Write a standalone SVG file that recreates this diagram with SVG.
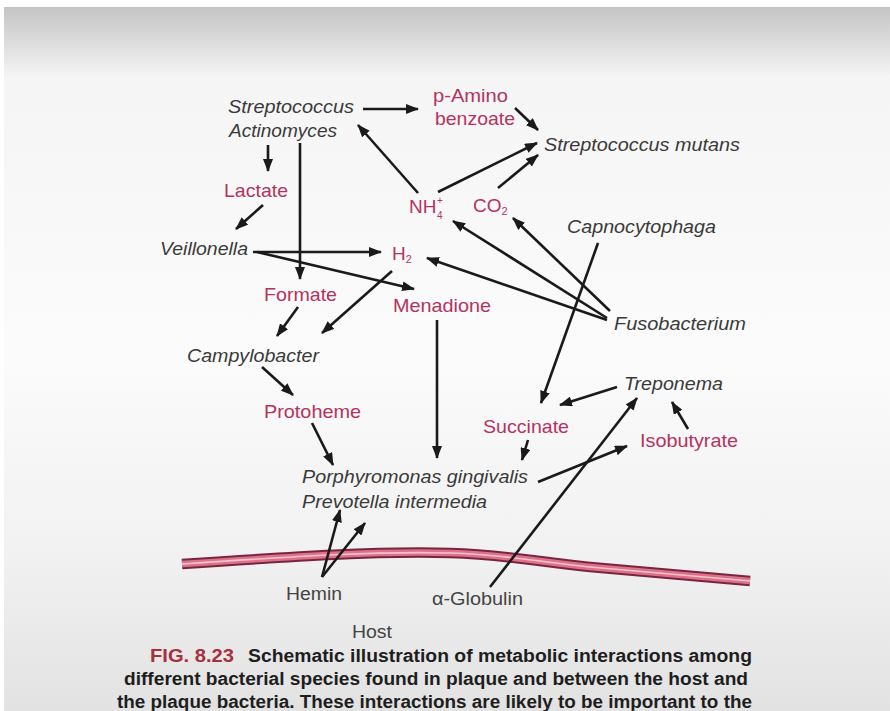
<svg xmlns="http://www.w3.org/2000/svg" width="890" height="711" viewBox="0 0 890 711">
<defs>
<linearGradient id="bg" x1="0" y1="7" x2="0" y2="711" gradientUnits="userSpaceOnUse">
<stop offset="0" stop-color="#c4c4c4"/>
<stop offset="0.1" stop-color="#f5f5f5"/>
<stop offset="0.5" stop-color="#fbfbfb"/>
<stop offset="0.78" stop-color="#f1f1f1"/>
<stop offset="1" stop-color="#e2e2e2"/>
</linearGradient>
<marker id="ah" markerUnits="userSpaceOnUse" markerWidth="13" markerHeight="10" refX="12" refY="5" orient="auto">
<path d="M0,0 L13,5 L0,10 z" fill="#1a1a1a"/>
</marker>
<style>
.sp{font-family:"Liberation Sans",Arial,sans-serif;font-style:italic;font-size:19px;fill:#3a3a3a}
.me{font-family:"Liberation Sans",Arial,sans-serif;font-size:19px;fill:#b5335e}
.ms{font-family:"Liberation Sans",Arial,sans-serif;font-size:10px;fill:#b5335e}
.ho{font-family:"Liberation Sans",Arial,sans-serif;font-size:18px;fill:#444}
.cap{font-family:"Liberation Sans",Arial,sans-serif;font-weight:bold;font-size:18px;fill:#1e1e1e}
.fig{font-family:"Liberation Sans",Arial,sans-serif;font-weight:bold;font-size:18px;fill:#a8303c}
.sub{font-size:11px}
#connectors line{stroke:#1a1a1a;stroke-width:2.6;marker-end:url(#ah)}
</style>
</defs>
<rect x="0" y="0" width="890" height="711" fill="#ffffff"/>
<rect x="4" y="7" width="886" height="704" fill="url(#bg)"/>

<g id="membrane" fill="none">
<path d="M182,564 C300,556 380,551 450,553 C510,555 540,562 590,567 L750,581" stroke="#7a2540" stroke-width="10.5"/>
<path d="M182,564 C300,556 380,551 450,553 C510,555 540,562 590,567 L750,581" stroke="#dc7189" stroke-width="6.5"/>
<path d="M182,564 C300,556 380,551 450,553 C510,555 540,562 590,567 L750,581" stroke="#f6c3cf" stroke-width="1.6"/>
</g>

<g id="connectors">
<line x1="363" y1="109" x2="418" y2="109"/>
<line x1="515" y1="108" x2="538" y2="130"/>
<line x1="418" y1="193" x2="358" y2="125"/>
<line x1="438" y1="192" x2="537" y2="143"/>
<line x1="498" y1="188" x2="538" y2="155"/>
<line x1="268" y1="145" x2="268" y2="171"/>
<line x1="263" y1="205" x2="236" y2="229"/>
<line x1="300" y1="143" x2="300" y2="279"/>
<line x1="253" y1="252" x2="381" y2="252"/>
<line x1="257" y1="252" x2="414" y2="289"/>
<line x1="392" y1="271" x2="322" y2="333"/>
<line x1="298" y1="307" x2="277" y2="336"/>
<line x1="262" y1="367" x2="293" y2="395"/>
<line x1="312" y1="423" x2="333" y2="465"/>
<line x1="437" y1="320" x2="437" y2="458"/>
<line x1="607" y1="318" x2="453" y2="221"/>
<line x1="610" y1="311" x2="513" y2="218"/>
<line x1="607" y1="320" x2="427" y2="258"/>
<line x1="598" y1="243" x2="541" y2="403"/>
<line x1="617" y1="387" x2="560" y2="405"/>
<line x1="528" y1="440" x2="522" y2="460"/>
<line x1="538" y1="482" x2="627" y2="446"/>
<line x1="688" y1="429" x2="672" y2="402"/>
<line x1="322" y1="577" x2="340" y2="510"/>
<line x1="322" y1="577" x2="365" y2="523"/>
<line x1="490" y1="587" x2="637" y2="398"/>
</g>

<g id="strep-actino"><text class="sp" x="228" y="113" textLength="126" lengthAdjust="spacingAndGlyphs">Streptococcus</text><text class="sp" x="229" y="137" textLength="108" lengthAdjust="spacingAndGlyphs">Actinomyces</text></g>
<g id="p-amino"><text class="me" x="433" y="102" textLength="75" lengthAdjust="spacingAndGlyphs">p-Amino</text><text class="me" x="435" y="125" textLength="80" lengthAdjust="spacingAndGlyphs">benzoate</text></g>
<g id="s-mutans"><text class="sp" x="544" y="151" textLength="196" lengthAdjust="spacingAndGlyphs">Streptococcus mutans</text></g>
<g id="lactate"><text class="me" x="224" y="197" textLength="64" lengthAdjust="spacingAndGlyphs">Lactate</text></g>
<g id="nh4"><text class="me" x="409" y="213">NH</text><text class="ms" x="437" y="204">+</text><text class="ms" x="437" y="219">4</text></g>
<g id="co2"><text class="me" x="473" y="212">CO<tspan class="sub" dy="3">2</tspan></text></g>
<g id="capno"><text class="sp" x="567" y="233" textLength="149" lengthAdjust="spacingAndGlyphs">Capnocytophaga</text></g>
<g id="veillonella"><text class="sp" x="160" y="255" textLength="88" lengthAdjust="spacingAndGlyphs">Veillonella</text></g>
<g id="h2"><text class="me" x="392" y="260">H<tspan class="sub" dy="3">2</tspan></text></g>
<g id="formate"><text class="me" x="264" y="301" textLength="73" lengthAdjust="spacingAndGlyphs">Formate</text></g>
<g id="menadione"><text class="me" x="393" y="312" textLength="98" lengthAdjust="spacingAndGlyphs">Menadione</text></g>
<g id="fuso"><text class="sp" x="614" y="330" textLength="132" lengthAdjust="spacingAndGlyphs">Fusobacterium</text></g>
<g id="campylo"><text class="sp" x="187" y="362" textLength="132" lengthAdjust="spacingAndGlyphs">Campylobacter</text></g>
<g id="treponema"><text class="sp" x="624" y="390" textLength="99" lengthAdjust="spacingAndGlyphs">Treponema</text></g>
<g id="protoheme"><text class="me" x="264" y="418" textLength="97" lengthAdjust="spacingAndGlyphs">Protoheme</text></g>
<g id="succinate"><text class="me" x="483" y="433" textLength="86" lengthAdjust="spacingAndGlyphs">Succinate</text></g>
<g id="isobutyrate"><text class="me" x="640" y="447" textLength="98" lengthAdjust="spacingAndGlyphs">Isobutyrate</text></g>
<g id="porph-prev"><text class="sp" x="302" y="483" textLength="226" lengthAdjust="spacingAndGlyphs">Porphyromonas gingivalis</text><text class="sp" x="302" y="508" textLength="185" lengthAdjust="spacingAndGlyphs">Prevotella intermedia</text></g>
<g id="hemin"><text class="ho" x="286" y="600" textLength="56" lengthAdjust="spacingAndGlyphs">Hemin</text></g>
<g id="globulin"><text class="ho" x="432" y="605" textLength="91" lengthAdjust="spacingAndGlyphs">α-Globulin</text></g>
<g id="host"><text class="ho" x="352" y="638" textLength="40" lengthAdjust="spacingAndGlyphs">Host</text></g>

<g id="caption">
<text class="fig" x="150" y="662" textLength="84" lengthAdjust="spacingAndGlyphs">FIG. 8.23</text>
<text class="cap" x="248" y="662" textLength="504" lengthAdjust="spacingAndGlyphs">Schematic illustration of metabolic interactions among</text>
<text class="cap" x="124" y="685" textLength="624" lengthAdjust="spacingAndGlyphs">different bacterial species found in plaque and between the host and</text>
<text class="cap" x="117" y="708" textLength="635" lengthAdjust="spacingAndGlyphs">the plaque bacteria. These interactions are likely to be important to the</text>
</g>
</svg>
